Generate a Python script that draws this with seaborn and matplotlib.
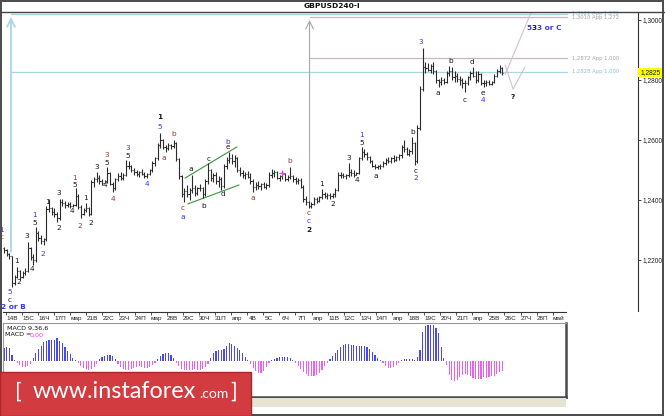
import matplotlib
matplotlib.use("Agg")
import matplotlib.pyplot as plt
from matplotlib.patches import Rectangle
import numpy as np
import pandas as pd
import seaborn as sns

# ---------------- data (GBPUSD H4) ----------------
open_first = 1.2240
high = [1.2245, 1.2238, 1.2225, 1.2212, 1.2150, 1.2178, 1.2168, 1.2165, 1.2172, 1.2260,
        1.2245, 1.2220, 1.2310, 1.2298, 1.2285, 1.2275, 1.2380, 1.2405, 1.2378, 1.2372,
        1.2360, 1.2405, 1.2402, 1.2398, 1.2395, 1.2392, 1.2388, 1.2440, 1.2420, 1.2385,
        1.2375, 1.2390, 1.2378, 1.2468, 1.2478, 1.2493, 1.2482, 1.2470, 1.2468, 1.2510,
        1.2495, 1.2460, 1.2475, 1.2490, 1.2492, 1.2490, 1.2533, 1.2530, 1.2518, 1.2508,
        1.2500, 1.2498, 1.2502, 1.2495, 1.2490, 1.2505, 1.2530, 1.2545, 1.2590, 1.2623,
        1.2605, 1.2585, 1.2590, 1.2588, 1.2600, 1.2592, 1.2540, 1.2485, 1.2440, 1.2450,
        1.2440, 1.2483, 1.2450, 1.2445, 1.2452, 1.2445, 1.2470, 1.2523, 1.2505, 1.2490,
        1.2495, 1.2480, 1.2478, 1.2520, 1.2545, 1.2560, 1.2555, 1.2550, 1.2545, 1.2510,
        1.2500, 1.2492, 1.2498, 1.2490, 1.2470, 1.2460, 1.2462, 1.2458, 1.2460, 1.2458,
        1.2495, 1.2505, 1.2500, 1.2498, 1.2485, 1.2492, 1.2490, 1.2485, 1.2510, 1.2485,
        1.2478, 1.2475, 1.2472, 1.2450, 1.2415, 1.2398, 1.2392, 1.2410, 1.2410, 1.2415,
        1.2437, 1.2428, 1.2425, 1.2422, 1.2425, 1.2440, 1.2493, 1.2492, 1.2490, 1.2488,
        1.2523, 1.2505, 1.2500, 1.2495, 1.2545, 1.2577, 1.2570, 1.2560, 1.2548, 1.2535,
        1.2520, 1.2518, 1.2520, 1.2530, 1.2540, 1.2542, 1.2545, 1.2550, 1.2548, 1.2555,
        1.2585, 1.2600, 1.2578, 1.2570, 1.2610, 1.2595, 1.2650, 1.2780, 1.2908, 1.2860,
        1.2858, 1.2855, 1.2860, 1.2835, 1.2805, 1.2810, 1.2808, 1.2830, 1.2847, 1.2845,
        1.2830, 1.2825, 1.2815, 1.2808, 1.2800, 1.2815, 1.2830, 1.2843, 1.2830, 1.2830,
        1.2825, 1.2800, 1.2800, 1.2800, 1.2798, 1.2820, 1.2838, 1.2850, 1.2845]
low = [1.2225, 1.2215, 1.2205, 1.2109, 1.2118, 1.2140, 1.2135, 1.2140, 1.2150, 1.2160,
       1.2200, 1.2183, 1.2195, 1.2265, 1.2255, 1.2250, 1.2265, 1.2360, 1.2350, 1.2345,
       1.2327, 1.2335, 1.2380, 1.2375, 1.2378, 1.2372, 1.2377, 1.2380, 1.2370, 1.2340,
       1.2350, 1.2360, 1.2347, 1.2350, 1.2445, 1.2460, 1.2455, 1.2450, 1.2460, 1.2458,
       1.2450, 1.2427, 1.2435, 1.2465, 1.2468, 1.2466, 1.2480, 1.2505, 1.2495, 1.2485,
       1.2480, 1.2478, 1.2482, 1.2475, 1.2473, 1.2485, 1.2495, 1.2515, 1.2535, 1.2575,
       1.2570, 1.2560, 1.2568, 1.2570, 1.2572, 1.2530, 1.2470, 1.2410, 1.2393, 1.2410,
       1.2400, 1.2425, 1.2415, 1.2418, 1.2430, 1.2407, 1.2415, 1.2455, 1.2465, 1.2460,
       1.2455, 1.2445, 1.2435, 1.2440, 1.2505, 1.2525, 1.2520, 1.2510, 1.2495, 1.2480,
       1.2475, 1.2470, 1.2472, 1.2455, 1.2427, 1.2435, 1.2438, 1.2435, 1.2440, 1.2437,
       1.2445, 1.2475, 1.2478, 1.2470, 1.2465, 1.2470, 1.2462, 1.2462, 1.2470, 1.2460,
       1.2455, 1.2452, 1.2440, 1.2395, 1.2385, 1.2373, 1.2375, 1.2382, 1.2390, 1.2392,
       1.2402, 1.2408, 1.2405, 1.2405, 1.2407, 1.2410, 1.2430, 1.2475, 1.2472, 1.2470,
       1.2478, 1.2480, 1.2478, 1.2483, 1.2488, 1.2535, 1.2545, 1.2535, 1.2525, 1.2510,
       1.2503, 1.2502, 1.2505, 1.2510, 1.2518, 1.2522, 1.2525, 1.2528, 1.2530, 1.2535,
       1.2540, 1.2560, 1.2550, 1.2548, 1.2555, 1.2518, 1.2522, 1.2635, 1.2765, 1.2825,
       1.2830, 1.2825, 1.2820, 1.2790, 1.2777, 1.2785, 1.2788, 1.2790, 1.2815, 1.2800,
       1.2795, 1.2795, 1.2785, 1.2775, 1.2760, 1.2785, 1.2800, 1.2810, 1.2790, 1.2795,
       1.2785, 1.2777, 1.2780, 1.2783, 1.2782, 1.2790, 1.2810, 1.2825, 1.2818]
close = [1.2232, 1.2220, 1.2212, 1.2125, 1.2145, 1.2165, 1.2142, 1.2158, 1.2165, 1.2240,
         1.2210, 1.2200, 1.2290, 1.2275, 1.2262, 1.2270, 1.2370, 1.2372, 1.2360, 1.2355,
         1.2340, 1.2395, 1.2390, 1.2385, 1.2388, 1.2380, 1.2385, 1.2415, 1.2378, 1.2355,
         1.2368, 1.2372, 1.2352, 1.2460, 1.2470, 1.2475, 1.2462, 1.2458, 1.2462, 1.2490,
         1.2455, 1.2440, 1.2470, 1.2480, 1.2475, 1.2485, 1.2515, 1.2512, 1.2500, 1.2492,
         1.2488, 1.2495, 1.2487, 1.2480, 1.2488, 1.2500, 1.2525, 1.2540, 1.2585, 1.2600,
         1.2578, 1.2575, 1.2582, 1.2580, 1.2590, 1.2538, 1.2480, 1.2420, 1.2430, 1.2420,
         1.2432, 1.2440, 1.2425, 1.2440, 1.2440, 1.2420, 1.2462, 1.2500, 1.2475, 1.2485,
         1.2462, 1.2470, 1.2448, 1.2515, 1.2535, 1.2540, 1.2530, 1.2540, 1.2500, 1.2490,
         1.2485, 1.2488, 1.2478, 1.2462, 1.2445, 1.2450, 1.2448, 1.2452, 1.2445, 1.2450,
         1.2485, 1.2490, 1.2495, 1.2475, 1.2480, 1.2487, 1.2470, 1.2478, 1.2480, 1.2470,
         1.2465, 1.2468, 1.2445, 1.2405, 1.2392, 1.2380, 1.2388, 1.2402, 1.2398, 1.2410,
         1.2420, 1.2415, 1.2418, 1.2412, 1.2420, 1.2435, 1.2485, 1.2482, 1.2480, 1.2485,
         1.2495, 1.2490, 1.2485, 1.2490, 1.2540, 1.2560, 1.2552, 1.2542, 1.2530, 1.2515,
         1.2510, 1.2512, 1.2515, 1.2525, 1.2535, 1.2530, 1.2540, 1.2535, 1.2545, 1.2550,
         1.2578, 1.2570, 1.2555, 1.2565, 1.2590, 1.2530, 1.2640, 1.2770, 1.2845, 1.2840,
         1.2835, 1.2848, 1.2830, 1.2800, 1.2795, 1.2800, 1.2795, 1.2825, 1.2830, 1.2810,
         1.2815, 1.2805, 1.2800, 1.2790, 1.2790, 1.2810, 1.2825, 1.2815, 1.2800, 1.2820,
         1.2790, 1.2790, 1.2795, 1.2788, 1.2795, 1.2815, 1.2830, 1.2840, 1.2825]

# MACD(9,36,6) histogram, in 0.25-pip units
macd = [13, 14, 13, 6, 1,
        -2, -4, -6, -6, -5, -3,
        3, 8, 12, 15, 19, 20, 21, 21, 21, 23, 20, 18, 14, 10, 7, 3, 1,
        -2, -5, -7, -8, -9, -8, -6, -3,
        2, 4, 5, 6, 6, 5, 2,
        -3, -6, -8, -9, -9, -8, -7, -6, -5, -6, -7, -7, -6, -4, -2,
        2, 5, 7, 8, 8, 6, 3,
        -2, -5, -8, -9, -9, -9, -9, -8, -9, -9, -8, -6, -3,
        3, 8, 10, 11, 11, 12, 15, 18, 17, 15, 13, 11, 8, 4, 1,
        -3, -7, -10, -12, -12, -10, -6, -2,
        1,
        2, 3, 4, 4, 4, 4, 3, 1,
        -2, -5, -8, -11, -13, -15, -15, -15, -14, -12, -9, -5, -2,
        2, 5, 8, 11, 14, 16, 17, 17, 16, 16, 15, 15, 15, 15, 14, 12, 9, 6, 3, 1,
        -2, -5, -7, -7, -6, -4, -2,
        1, 2, 2, 2, 2, 1,
        4, 11, 29, 35, 36, 36, 36, 33, 28, 14, 3,
        -4, -14, -19, -20, -19, -16, -14, -13, -14, -15, -17, -18, -18, -18, -16, -17,
        -16, -15, -15, -13, -11, -10]

day_labels = ["14В", "15С", "16Ч", "17П", "мар", "21В", "22С", "23Ч", "24П", "мар",
              "28В", "29С", "30Ч", "31П", "апр", "4В", "5С", "6Ч", "7П", "апр",
              "11В", "12С", "13Ч", "14П", "апр", "18В", "19С", "20Ч", "21П", "апр",
              "25В", "26С", "27Ч", "28П", "май"]
price_ticks = [1.2200, 1.2400, 1.2600, 1.2800, 1.3000]
last_price = 1.2825

# Elliott wave labels: (text, bar, price, colour, bold)
wave_labels = [
    ("1", -1.0, 1.2300, "b", False), ("c", -1.0, 1.2277, "r", False),
    ("5", 2.3, 1.2093, "b", False), ("c", 2.3, 1.2067, "k", False),
    ("1", 4.9, 1.2197, "k", False), ("2", 5.7, 1.2127, "k", False),
    ("3", 8.7, 1.2280, "k", False), ("4", 10.6, 1.2170, "k", False),
    ("1", 11.7, 1.2350, "b", False), ("5", 11.7, 1.2323, "k", False),
    ("2", 14.7, 1.2220, "b", False), ("1", 16.6, 1.2393, "k", False),
    ("3", 20.8, 1.2423, "k", False), ("2", 20.8, 1.2307, "k", False),
    ("4", 25.7, 1.2363, "k", False), ("1", 26.8, 1.2473, "r", False),
    ("5", 26.8, 1.2450, "k", False), ("2", 28.7, 1.2313, "r", False),
    ("1", 30.9, 1.2407, "k", False), ("2", 32.8, 1.2323, "k", False),
    ("3", 35.1, 1.2510, "k", False), ("4", 38.1, 1.2450, "k", False),
    ("3", 38.9, 1.2550, "r", False), ("5", 38.9, 1.2523, "k", False),
    ("4", 41.1, 1.2403, "r", False), ("3", 46.8, 1.2573, "b", False),
    ("5", 46.8, 1.2547, "k", False), ("4", 54.0, 1.2453, "b", False),
    ("1", 58.9, 1.2677, "k", True), ("5", 58.9, 1.2643, "b", False),
    ("a", 60.4, 1.2540, "r", False), ("b", 64.2, 1.2620, "r", False),
    ("c", 67.5, 1.2373, "r", False), ("a", 67.5, 1.2343, "b", False),
    ("a", 70.6, 1.2503, "k", False), ("b", 75.5, 1.2380, "k", False),
    ("c", 77.4, 1.2537, "k", False), ("d", 82.6, 1.2420, "k", False),
    ("b", 84.5, 1.2593, "b", False), ("e", 84.5, 1.2577, "k", False),
    ("a", 94.0, 1.2407, "r", False), ("b", 107.9, 1.2530, "r", False),
    ("c", 115.1, 1.2357, "r", False), ("c", 115.1, 1.2330, "b", False),
    ("2", 115.1, 1.2300, "k", True), ("1", 120.0, 1.2453, "k", False),
    ("2", 124.2, 1.2387, "k", False), ("3", 130.2, 1.2540, "k", False),
    ("4", 133.2, 1.2467, "k", False), ("1", 135.1, 1.2617, "b", False),
    ("5", 135.1, 1.2590, "k", False), ("a", 140.4, 1.2480, "k", False),
    ("b", 154.3, 1.2627, "k", False), ("c", 155.5, 1.2497, "k", False),
    ("2", 155.5, 1.2473, "b", False), ("3", 157.4, 1.2927, "b", False),
    ("a", 163.8, 1.2757, "k", False), ("b", 168.7, 1.2863, "k", False),
    ("c", 174.0, 1.2733, "k", False), ("d", 176.6, 1.2860, "k", False),
    ("e", 180.8, 1.2757, "k", False), ("4", 180.8, 1.2733, "b", False),
    ("?", 192.1, 1.2743, "k", True),
]

# Fibonacci expansion levels
fib_cyan = [1.2828, 1.3021]
fib_cyan_text = ["1,2828 App 1,000", "1,3022 App 1,272"]
fib_gray = [1.2872, 1.3010]
fib_gray_text = ["1,2872 App 1,000", "1,3010 App 1,272"]
cyan_base = (2.64, 1.2227)
gray_base = (115.3, 1.2390)
forecast_v = ([189.1, 192.1, 196.6], [1.2850, 1.2770, 1.2843])
forecast_up = ([189.1, 198.9], [1.2818, 1.3025])
channel_up = ([68.3, 87.9], [1.2473, 1.2577])
channel_lo = ([69.4, 88.7], [1.2387, 1.2450])

# ---------------- style ----------------
sns.set_style("white")
plt.rcParams["font.family"] = ["DejaVu Sans"]

W, H = 665, 416
fig = plt.figure(figsize=(W / 100, H / 100), dpi=100)
fig.patch.set_facecolor("white")


def fr(x0, y0, x1, y1):
    return [x0 / W, 1 - y1 / H, (x1 - x0) / W, (y1 - y0) / H]


PX0, PXS = 4.0, 2.65


def bx(px):
    return (px - PX0) / PXS


def py(y):
    return 1.30 - (y - 20) / 3000.0


COL = {"b": "#3434ff", "k": "#1a1a1a", "r": "#a3362e"}
BAR = "#2a2a2a"
CYAN = "#a9d6e3"
MAUVE = "#c9b6c6"
SMALL = ["Liberation Sans", "DejaVu Sans"]

# ---------------- main price panel ----------------
ax = fig.add_axes(fr(3, 12, 638, 311))
ax.set_xlim(bx(3), bx(638))
ax.set_ylim(py(311), py(12))
for s in ["left", "top", "bottom"]:
    ax.spines[s].set_visible(False)
ax.spines["right"].set_color("#333333")
ax.spines["right"].set_linewidth(0.8)
ax.yaxis.tick_right()
ax.set_yticks(price_ticks)
ax.set_yticklabels([f"{v:.4f}".replace(".", ",") for v in price_ticks],
                   fontsize=4.8, family=SMALL)
ax.tick_params(axis="y", direction="out", length=2.5, width=0.6, pad=1.0,
               colors="#222222")
ax.set_xticks([])

df = pd.DataFrame({"high": high, "low": low, "close": close})
df["open"] = df["close"].shift(1).fillna(open_first)
idx = np.arange(len(df))
ax.vlines(idx, df["low"], df["high"], color=BAR, lw=0.8, zorder=3)
ax.hlines(df["open"], idx - 0.45, idx, color=BAR, lw=0.8, zorder=3)
ax.hlines(df["close"], idx, idx + 0.45, color=BAR, lw=0.8, zorder=3)
ax.plot([105], [1.2490], marker="+", ms=4, mew=0.9, color="#ff33ff", zorder=4)

# fibonacci tool lines
xend = bx(567)
for lv, t in zip(fib_cyan, fib_cyan_text):
    ax.plot([cyan_base[0], xend], [lv, lv], color=CYAN, lw=0.9, zorder=1)
    ax.text(bx(572), lv, t, fontsize=3.8, color="#8fbfd3", va="center",
            ha="left", clip_on=False)
for lv, t in zip(fib_gray, fib_gray_text):
    ax.plot([gray_base[0], xend], [lv, lv], color=MAUVE, lw=0.9, zorder=1)
    ax.text(bx(572), lv, t, fontsize=3.8,
            color="#a8a0a8", va="center", ha="left", clip_on=False)
ax.annotate("", xy=(cyan_base[0], py(17)), xytext=cyan_base,
            arrowprops=dict(arrowstyle="->,head_length=0.7,head_width=0.35",
                            color=CYAN, lw=1.3, mutation_scale=8,
                            shrinkA=0, shrinkB=0), zorder=1)
ax.annotate("", xy=(gray_base[0], py(20)), xytext=gray_base,
            arrowprops=dict(arrowstyle="->,head_length=0.7,head_width=0.35",
                            color="#a8a8a8", lw=0.8, mutation_scale=8,
                            shrinkA=0, shrinkB=0), zorder=1)

# channel and forecast lines
ax.plot(*channel_up, color="#3c963c", lw=0.8, zorder=2)
ax.plot(*channel_lo, color="#3c963c", lw=0.8, zorder=2)
ax.plot(*forecast_v, color="#d6c0cf", lw=0.8, zorder=2)
ax.plot(*forecast_up, color="#d6c0cf", lw=0.8, zorder=2)

# wave labels
for t, xb, pr, c, bold in wave_labels:
    ax.text(xb, pr, t, color=COL[c], fontsize=5.3, ha="center", va="center",
            fontweight="bold" if bold else "normal", zorder=5)
ax.text(bx(1.5), py(307), "2 or B", color=COL["b"], fontsize=5.3,
        fontweight="bold", ha="left", va="center", zorder=5, clip_on=False)
ax.text(bx(526), py(28), "5", color=COL["b"], fontsize=5.3, fontweight="bold",
        ha="left", va="center")
ax.text(bx(532), py(28), "3", color=COL["k"], fontsize=5.3, fontweight="bold",
        ha="left", va="center")
ax.text(bx(536.5), py(28), "3 or C", color=COL["b"], fontsize=5.3,
        fontweight="bold", ha="left", va="center")

# last price tag
ytr = ax.get_yaxis_transform()
ax.add_patch(Rectangle((1.0, last_price - 0.00135), 25 / 635, 0.0027,
                       transform=ytr, facecolor="#ffff00", edgecolor="none",
                       clip_on=False, zorder=6))
ax.text(1.0 + 3.0 / 635, last_price, f"{last_price:.4f}".replace(".", ","),
        transform=ytr, fontsize=4.8, family=SMALL, va="center", ha="left",
        color="#111111", clip_on=False, zorder=7)

# ---------------- date axis ----------------
dax = fig.add_axes(fr(3, 312, 566, 323))
DPX = 16.08
dax.set_xlim((3 - 12) / DPX, (566 - 12) / DPX)
dax.set_ylim(0, 1)
for s in ["left", "right", "bottom"]:
    dax.spines[s].set_visible(False)
dax.spines["top"].set_linestyle((0, (1, 1)))
dax.spines["top"].set_color("#333333")
dax.spines["top"].set_linewidth(0.8)
dax.set_yticks([])
dax.xaxis.tick_top()
dax.set_xticks([k - 6 / DPX for k in range(len(day_labels))])
dax.tick_params(axis="x", direction="in", length=2.5, width=0.6,
                labeltop=False, colors="#333333")
for k, lab in enumerate(day_labels):
    dax.text(k, 0.45, lab, fontsize=4.6, family=SMALL, ha="center",
             va="center", color="#222222")
dax.patch.set_alpha(0)

# ---------------- MACD panel ----------------
mac = fig.add_axes(fr(3, 323, 566, 397))
mdf = pd.DataFrame({"bar": np.arange(len(macd)), "macd": macd})
mdf["sign"] = np.where(mdf["macd"] >= 0, "pos", "neg")
sns.barplot(data=mdf, x="bar", y="macd", hue="sign",
            palette={"pos": "#4848f2", "neg": "#f25cf2"},
            native_scale=True, width=0.42, dodge=False, legend=False,
            saturation=1, errorbar=None, linewidth=0, ax=mac)
mac.set_xlim(bx(3), bx(566))
mac.set_ylim(-36, 38)
mac.set_xticks([])
mac.set_yticks([])
mac.set_xlabel("")
mac.set_ylabel("")
for s in ["left", "top"]:
    mac.spines[s].set_color("#9a9a9a")
    mac.spines[s].set_linewidth(0.8)
for s in ["right", "bottom"]:
    mac.spines[s].set_color("#4a4a4a")
    mac.spines[s].set_linewidth(1.8)
mac.text(4 / 563, 1 - 5 / 74, "MACD 9,36,6", transform=mac.transAxes,
         fontsize=4.6, ha="left", va="center", color="#111111")
mac.text(2 / 563, 1 - 12 / 74, "MACD =", transform=mac.transAxes,
         fontsize=4.6, ha="left", va="center", color="#111111")
mac.text(27 / 563, 1 - 12 / 74, "0,00", transform=mac.transAxes,
         fontsize=4.6, ha="left", va="center", color="#ff33ff")

# ---------------- frame, title, footer ----------------
ft = fig.transFigure
fig.add_artist(Rectangle((3 / W, 1 - 407 / H), 563 / W, 9 / H, transform=ft,
                         facecolor="#e6e3d2", edgecolor="none", zorder=1))
fig.add_artist(plt.Line2D([0, 1], [1 - 12 / H, 1 - 12 / H], transform=ft,
                          color="#444444", lw=1.0, zorder=4))
fig.add_artist(Rectangle((0.8 / W, 0.8 / H), (W - 2.4) / W, (H - 1.8) / H,
                         transform=ft, facecolor="none", edgecolor="#4a4a4a",
                         lw=1.4, zorder=4))
fig.text(332 / W, 1 - 6.5 / H, "GBPUSD240-I", fontsize=5.4, fontweight="bold",
         ha="center", va="center", color="#111111")

# banner
fig.add_artist(Rectangle((0, 0), 251 / W, (416 - 372) / H, transform=ft,
                         facecolor="#d23b3f", edgecolor="#a8282c", lw=1.0,
                         zorder=8))
BF = ["Lato", "DejaVu Sans"]
base = 1 - 398 / H
fig.text(15 / W, base, "[", fontsize=16, family=BF, color="white",
         ha="left", va="baseline", zorder=9)
fig.text(33 / W, base, "www.instaforex", fontsize=16.8, family=BF,
         color="white", ha="left", va="baseline", zorder=9)
fig.text(199 / W, base, ".com", fontsize=10, family=BF,
         color="white", ha="left", va="baseline", zorder=9)
fig.text(230 / W, base, "]", fontsize=16, family=BF, color="white",
         ha="left", va="baseline", zorder=9)

fig.savefig("out.png", dpi=100)
